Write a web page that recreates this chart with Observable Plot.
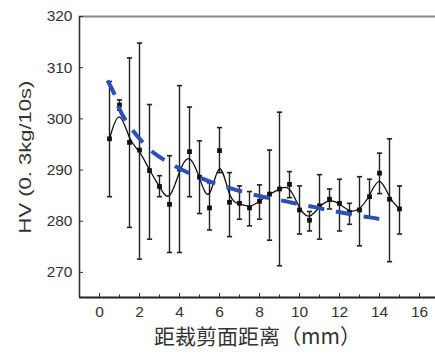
<!DOCTYPE html>
<html><head><meta charset="utf-8">
<script src="https://cdn.jsdelivr.net/npm/d3@7"></script>
<script src="https://cdn.jsdelivr.net/npm/@observablehq/plot@0.6"></script>
<style>body{margin:0;background:#fff} #chart svg{display:block}</style>
</head><body><div id="chart"></div>
<script>
// Measured hardness vs distance from shear surface
const distance = [0.5,1,1.5,2,2.5,3,3.5,4,4.5,5,5.5,6,6.5,7,7.5,8,8.5,9,9.5,10,10.5,11,11.5,12,12.5,13,13.5,14,14.5,15];
const hvMean = [296.1,302.7,295.4,293.9,289.9,286.8,283.3,290.2,293.6,288.6,282.6,293.8,283.7,283.5,282.6,283.9,285.3,286.3,287.2,282.2,280.2,283.0,284.3,283.5,281.7,282.2,284.8,289.4,284.3,282.4];
const hvHigh = [307.3,303.7,311.9,314.8,302.8,288.9,292.8,306.5,302.3,295.7,287.5,298.3,289.5,286.9,285.8,287.1,293.9,301.3,289.7,286.9,281.9,289.1,286.3,288.2,283.5,288.7,288.2,293.3,296.1,286.9];
const hvLow  = [284.8,301.7,278.8,272.6,276.5,284.8,273.9,273.9,284.8,281.5,278.3,289.5,277.0,280.4,279.1,280.4,276.3,271.3,284.6,277.5,278.1,276.5,282.4,278.1,279.4,275.2,280.7,285.4,272.1,277.5];
// Fitted trend (blue dashed)
const fitX = [0.4,0.78,1.0,1.5,2.1,2.8,3.5,4.2,4.95,5.7,6.4,7.1,7.8,8.5,9.3,10.0,10.7,11.5,12.1,12.95,13.6,14.4];
const fitY = [307.5,304.5,301.9,298.6,295.7,293.1,291.4,289.9,288.6,287.5,286.6,285.8,285.1,284.5,283.9,283.3,282.8,282.1,281.7,281.1,280.7,280.1];
// Axes
const xDomain = [-1, 16.8];
const yDomain = [265.1, 320];
const xTicks = [0,2,4,6,8,10,12,14,16];
const xMinorTicks = [1,3,5,7,9,11,13,15];
const yTicks = [270,280,290,300,310,320];
const xTitle = "距裁剪面距离（mm）";
const yTitle = "HV (0. 3kg/10s)";

const pts = distance.map((d,i)=>({x:d, m:hvMean[i], lo:hvLow[i], hi:hvHigh[i]}));
const fit = fitX.map((d,i)=>({x:d, y:fitY[i]}));
const cap = {draw(ctx){ctx.moveTo(-2.6,0);ctx.lineTo(2.6,0);}};

const chart = Plot.plot({
  width:435, height:358,
  marginLeft:79, marginRight:0, marginTop:16, marginBottom:61,
  style:{fontFamily:"'Liberation Sans', Arial, sans-serif", background:"#fff", color:"#333"},
  x:{domain:xDomain},
  y:{domain:yDomain},
  marks:[
    Plot.ruleY([yDomain[1]], {stroke:"#8a8a8a", strokeWidth:2}),
    Plot.ruleX([xDomain[0]], {stroke:"#333", strokeWidth:1.6}),
    Plot.ruleY([yDomain[0]], {stroke:"#222", strokeWidth:2}),
    Plot.axisY({ticks:yTicks, tickSize:-4, tickPadding:11, fontSize:15.5, label:null, stroke:"#333"}),
    Plot.axisX({ticks:xTicks, tickSize:-4, tickPadding:12, fontSize:15.5, label:null, stroke:"#333"}),
    Plot.axisX({ticks:xMinorTicks, tickSize:-2.5, tickFormat:()=>"", label:null, stroke:"#333"}),
    Plot.ruleX(pts, {x:"x", y1:"lo", y2:"hi", stroke:"#222", strokeWidth:1.4}),
    Plot.dot(pts, {x:"x", y:"hi", symbol:cap, stroke:"#222", strokeWidth:1.6, fill:"none"}),
    Plot.dot(pts, {x:"x", y:"lo", symbol:cap, stroke:"#222", strokeWidth:1.6, fill:"none"}),
    Plot.line(pts, {x:"x", y:"m", curve:"basis", stroke:"#111", strokeWidth:1.3}),
    Plot.dot(pts, {x:"x", y:"m", symbol:"square", r:2.7, fill:"#111"}),
    Plot.line(fit, {x:"x", y:"y", curve:"natural", stroke:"#2d4fb8", strokeWidth:4, strokeDasharray:"16,12", strokeLinecap:"butt"}),
    Plot.text([xTitle], {frameAnchor:"bottom", dy:46, fontSize:21, fontFamily:"'Noto Sans CJK SC', sans-serif", fill:"#333"}),
    Plot.text([yTitle], {frameAnchor:"left", textAnchor:"middle", rotate:-90, dx:-54, fontSize:22, fill:"#333", className:"ytitle"})
  ]
});
document.getElementById("chart").appendChild(chart);
d3.select(chart).selectAll(".ytitle text").each(function(){
  const t = d3.select(this);
  t.attr("transform", (t.attr("transform") || "") + " scale(1,0.78)");
});
</script>
</body></html>
